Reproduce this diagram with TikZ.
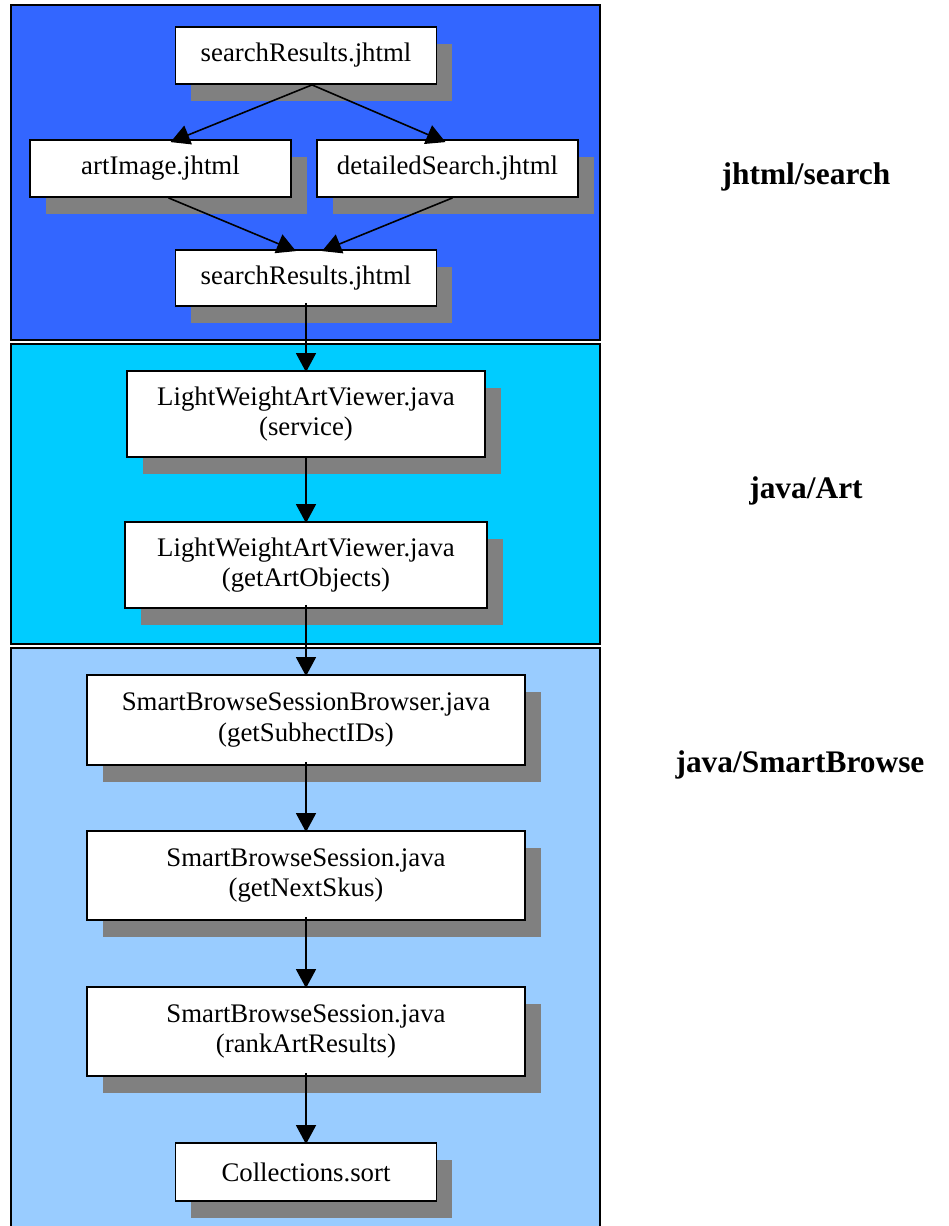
\documentclass[tikz,border=0pt]{standalone}
\usepackage{fontspec}
\setmainfont{Liberation Serif}
\usetikzlibrary{arrows.meta,shadows}
\definecolor{panelA}{HTML}{3366FF}
\definecolor{panelB}{HTML}{00CCFF}
\definecolor{panelC}{HTML}{99CCFF}
\definecolor{shadowgray}{HTML}{808080}
\tikzset{
  panel/.style={draw=black, line width=1.5pt},
  box/.style={draw=black, line width=1.8pt, fill=white, rectangle, align=center,
    font=\fontsize{26.8}{30.5}\selectfont, inner sep=0pt,
    general shadow={fill=shadowgray, shadow xshift=15.5pt, shadow yshift=-17pt}},
  link/.style={line width=1.6pt, -{Triangle[length=19pt,width=20pt]}},
  grouplabel/.style={font=\fontsize{31.4}{34}\selectfont\bfseries}
}
\begin{document}
\begin{tikzpicture}[x=1pt,y=-1pt]
\useasboundingbox (0,0) rectangle (948,1226);
% panels
\draw[panel, fill=panelA] (11,5) rectangle (600,340);
\draw[panel, fill=panelB] (11,344) rectangle (600,644);
\draw[panel, fill=panelC] (11,648) rectangle (600,1232);
% nodes
\node[box, minimum width=261pt, minimum height=57pt] (sr1) at (306,55.5) {searchResults.jhtml};
\node[box, minimum width=261pt, minimum height=57pt] (art) at (160.5,168.5) {artImage.jhtml};
\node[box, minimum width=261pt, minimum height=57pt] (det) at (447.5,168.5) {detailedSearch.jhtml};
\node[box, minimum width=261pt, minimum height=56pt] (sr2) at (306,278) {searchResults.jhtml};
\node[box, minimum width=358pt, minimum height=86pt] (lw1) at (306,414) {LightWeightArtViewer.java\\(service)};
\node[box, minimum width=362pt, minimum height=86pt] (lw2) at (306,565) {LightWeightArtViewer.java\\(getArtObjects)};
\node[box, minimum width=438pt, minimum height=90pt] (sb1) at (306,720) {SmartBrowseSessionBrowser.java\\(getSubhectIDs)};
\node[box, minimum width=438pt, minimum height=89pt] (sb2) at (306,875.5) {SmartBrowseSession.java\\(getNextSkus)};
\node[box, minimum width=438pt, minimum height=89pt] (sb3) at (306,1031.5) {SmartBrowseSession.java\\(rankArtResults)};
\node[box, minimum width=261pt, minimum height=58pt] (cs) at (306,1172) {Collections.sort};
% labels
\node[grouplabel] (l1) at (806,177) {jhtml/search};
\node[grouplabel] (l2) at (806,491) {java/Art};
\node[grouplabel] (l3) at (800,765) {java/SmartBrowse};
% connectors
\draw[link] ([xshift=6pt]sr1.south) -- ([xshift=10pt,yshift=-3pt]art.north);
\draw[link] ([xshift=6pt]sr1.south) -- ([xshift=-2pt,yshift=-3pt]det.north);
\draw[link] ([xshift=8pt]art.south) -- ([xshift=-10pt,yshift=-2pt]sr2.north);
\draw[link] ([xshift=5pt]det.south) -- ([xshift=16pt,yshift=-2pt]sr2.north);
\draw[link] ([yshift=4pt]sr2.south) -- ([yshift=-2pt]lw1.north);
\draw[link] (lw1.south) -- ([yshift=-2pt]lw2.north);
\draw[link] ([yshift=4pt]lw2.south) -- ([yshift=-2pt]sb1.north);
\draw[link] ([yshift=4pt]sb1.south) -- ([yshift=-2pt]sb2.north);
\draw[link] ([yshift=4pt]sb2.south) -- ([yshift=-2pt]sb3.north);
\draw[link] ([yshift=4pt]sb3.south) -- ([yshift=-2pt]cs.north);
\end{tikzpicture}
\end{document}
